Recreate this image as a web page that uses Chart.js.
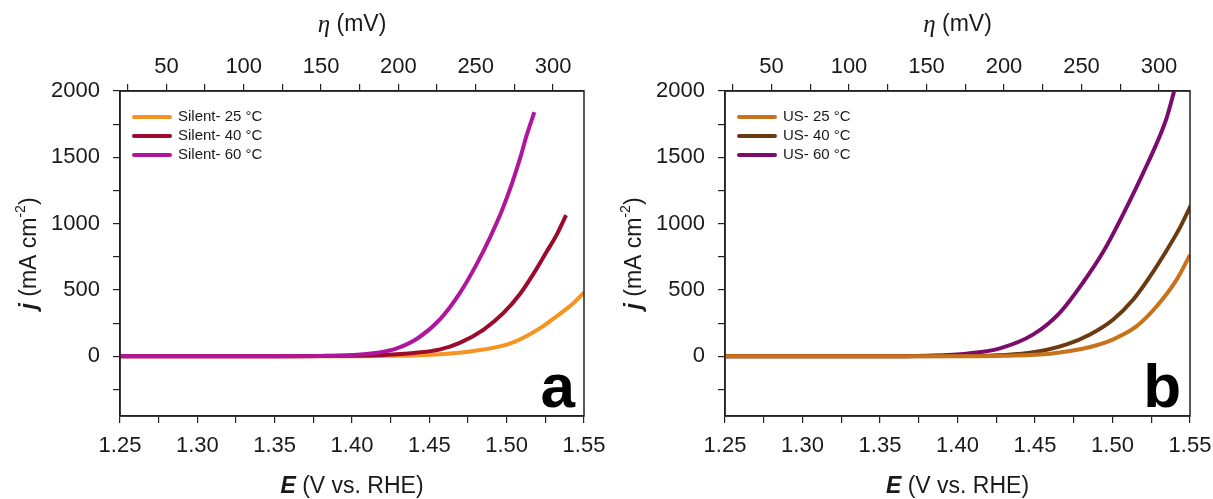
<!DOCTYPE html>
<html>
<head>
<meta charset="utf-8">
<script src="https://cdn.jsdelivr.net/npm/chart.js@4.4.1/dist/chart.umd.min.js"></script>
<style>
  body { margin: 0; background: #fff; }
  .wrap { position: absolute; top: 0; height: 499px; }
  #wa { left: 0; width: 605px; }
  #wb { left: 605px; width: 608px; }
</style>
</head>
<body>
<div class="wrap" id="wa"><canvas id="chartA"></canvas></div>
<div class="wrap" id="wb"><canvas id="chartB"></canvas></div>
<script>
// tick values and labels
const eMajor = [1.25, 1.30, 1.35, 1.40, 1.45, 1.50, 1.55];
const eTickLabels = ['1.25', '1.30', '1.35', '1.40', '1.45', '1.50', '1.55'];
const eMinor = [1.275, 1.325, 1.375, 1.425, 1.475, 1.525];
const etaMajor = [50, 100, 150, 200, 250, 300];
const etaTickLabels = ['50', '100', '150', '200', '250', '300'];
const etaMinor = [25, 75, 125, 175, 225, 275];
const jMajor = [0, 500, 1000, 1500, 2000];
const jTickLabels = ['0', '500', '1000', '1500', '2000'];
const jMinor = [-250, 250, 750, 1250, 1750];

// panel a (silent)
const labelsA = ['Silent- 25 °C', 'Silent- 40 °C', 'Silent- 60 °C'];
const eSilent25 = [1.25, 1.30, 1.35, 1.40, 1.42, 1.44, 1.457, 1.4785, 1.50, 1.5108, 1.5216, 1.5323, 1.5431, 1.55];
const jSilent25 = [0, 0, 0, 1, 3, 7, 15, 40, 88, 140, 212, 302, 400, 482];
const eSilent40 = [1.25, 1.30, 1.35, 1.40, 1.42, 1.44, 1.457, 1.47, 1.4849, 1.4978, 1.5086, 1.5172, 1.5259, 1.5323, 1.5384];
const jSilent40 = [0, 0, 0, 4, 10, 25, 52, 103, 200, 325, 470, 620, 790, 915, 1064];
const eSilent60 = [1.25, 1.30, 1.35, 1.38, 1.40, 1.415, 1.429, 1.443, 1.457, 1.4698, 1.4806, 1.4892, 1.4968, 1.5032, 1.5086, 1.5129, 1.5179];
const jSilent60 = [0, 0, 0, 3, 10, 25, 60, 140, 280, 478, 695, 895, 1095, 1295, 1490, 1665, 1840];

// panel b (ultrasound)
const labelsB = ['US- 25 °C', 'US- 40 °C', 'US- 60 °C'];
const eUS25 = [1.25, 1.30, 1.35, 1.40, 1.43, 1.46, 1.4855, 1.5005, 1.5156, 1.5285, 1.5414, 1.55];
const jUS25 = [0, 0, 0, 1, 5, 20, 70, 128, 227, 377, 578, 765];
const eUS40 = [1.25, 1.30, 1.35, 1.40, 1.43, 1.4489, 1.4704, 1.4855, 1.5005, 1.5134, 1.5242, 1.535, 1.5435, 1.5506];
const jUS40 = [0, 0, 0, 2, 10, 30, 90, 165, 278, 428, 602, 800, 970, 1140];
const eUS60 = [1.25, 1.30, 1.35, 1.38, 1.4059, 1.4274, 1.4489, 1.4661, 1.4812, 1.4941, 1.5027, 1.5113, 1.5199, 1.5285, 1.535, 1.5397];
const jUS60 = [0, 0, 0, 5, 20, 60, 165, 330, 560, 790, 975, 1175, 1385, 1605, 1800, 1995];

const colorsA = ['#f7931e', '#9c0a2e', '#b0169c'];
const colorsB = ['#c8731a', '#6b3a10', '#7b0c6c'];

const FONT = '"Liberation Sans", Arial, sans-serif';
const INK = '#1a1a1a';

function pickLabel(v, major, labels) {
  const i = major.findIndex(m => Math.abs(m - v) < 1e-6);
  return i >= 0 ? labels[i] : '';
}

function toPoints(e, j) {
  return e.map((x, i) => ({ x: x, y: j[i] }));
}

// frame, axis titles, legend and panel letter
const decorPlugin = {
  id: 'decor',
  afterDraw(chart, args, opts) {
    const c = chart.ctx, a = chart.chartArea;
    c.save();
    c.strokeStyle = '#222';
    c.lineWidth = 1.5;
    c.strokeRect(a.left, a.top, a.right - a.left, a.bottom - a.top);

    const cx = (a.left + a.right) / 2;
    c.fillStyle = INK;
    c.textBaseline = 'middle';

    // top title: eta (mV)
    c.font = 'italic 25px "Liberation Serif", serif';
    const w1 = c.measureText('η').width;
    c.font = '23px ' + FONT;
    const w2 = c.measureText(' (mV)').width;
    let x = cx - (w1 + w2) / 2;
    c.textAlign = 'left';
    c.font = 'italic 25px "Liberation Serif", serif';
    c.fillText('η', x, a.top - 66);
    c.font = '23px ' + FONT;
    c.fillText(' (mV)', x + w1, a.top - 66);

    // bottom title: E (V vs. RHE)
    c.font = 'bold italic 23px ' + FONT;
    const b1 = c.measureText('E').width;
    c.font = '23px ' + FONT;
    const b2 = c.measureText(' (V vs. RHE)').width;
    x = cx - (b1 + b2) / 2;
    c.font = 'bold italic 23px ' + FONT;
    c.fillText('E', x, a.bottom + 71);
    c.font = '23px ' + FONT;
    c.fillText(' (V vs. RHE)', x + b1, a.bottom + 71);

    // y title: j (mA cm-2)
    c.save();
    c.translate(a.left - 90, (a.top + a.bottom) / 2);
    c.rotate(-Math.PI / 2);
    const parts = [
      ['j', 'bold italic 23px ' + FONT, 0],
      [' (mA cm', '23px ' + FONT, 0],
      ['-2', '14px ' + FONT, -9],
      [')', '23px ' + FONT, 0]
    ];
    let tw = 0;
    parts.forEach(p => { c.font = p[1]; tw += c.measureText(p[0]).width; });
    x = -tw / 2;
    parts.forEach(p => {
      c.font = p[1];
      c.fillText(p[0], x, p[2]);
      x += c.measureText(p[0]).width;
    });
    c.restore();

    // legend
    c.font = '15px ' + FONT;
    c.lineWidth = 4;
    c.lineCap = 'round';
    chart.data.datasets.forEach((ds, i) => {
      const ly = a.top + 26 + i * 19;
      c.strokeStyle = ds.borderColor;
      c.beginPath();
      c.moveTo(a.left + 14, ly);
      c.lineTo(a.left + 50, ly);
      c.stroke();
      c.fillStyle = INK;
      c.fillText(ds.label, a.left + 58, ly);
    });

    // panel letter
    c.font = 'bold 62px ' + FONT;
    c.textAlign = 'right';
    c.textBaseline = 'alphabetic';
    c.fillStyle = '#000';
    c.fillText(opts.letter, a.right - 9, a.bottom - 9);
    c.restore();
  }
};

function makeChart(id, labels, es, js, colors, orders, letter, padRight) {
  const datasets = labels.map((lab, i) => ({
    label: lab,
    data: toPoints(es[i], js[i]),
    borderColor: colors[i],
    borderWidth: 4,
    pointRadius: 0,
    cubicInterpolationMode: 'monotone',
    order: orders[i],
    xAxisID: 'x',
    yAxisID: 'y'
  }));
  const tickFont = { family: FONT, size: 22 };
  const grid = { drawOnChartArea: false, drawTicks: true, tickLength: 7, color: '#222', lineWidth: 1.2 };
  new Chart(document.getElementById(id), {
    type: 'line',
    data: { datasets: datasets },
    options: {
      responsive: true,
      maintainAspectRatio: false,
      animation: false,
      layout: { padding: { left: 0, top: 0, bottom: 0, right: padRight } },
      plugins: {
        legend: { display: false },
        tooltip: { enabled: false },
        decor: { letter: letter }
      },
      scales: {
        x: {
          type: 'linear', position: 'bottom', min: 1.25, max: 1.55,
          afterBuildTicks: s => { s.ticks = eMajor.concat(eMinor).map(v => ({ value: v })); },
          afterFit: s => { s.height = 83; },
          ticks: { callback: v => pickLabel(v, eMajor, eTickLabels), font: tickFont, color: INK, padding: 10, maxRotation: 0, autoSkip: false },
          grid: grid,
          border: { color: '#222', width: 1.5 }
        },
        x2: {
          type: 'linear', position: 'top', min: 20, max: 320,
          afterBuildTicks: s => { s.ticks = etaMajor.concat(etaMinor).map(v => ({ value: v })); },
          afterFit: s => { s.height = 91; },
          ticks: { callback: v => pickLabel(v, etaMajor, etaTickLabels), font: tickFont, color: INK, padding: 4, maxRotation: 0, autoSkip: false },
          grid: grid,
          border: { color: '#222', width: 1.5 }
        },
        y: {
          type: 'linear', position: 'left', min: -450, max: 2000,
          afterBuildTicks: s => { s.ticks = jMajor.concat(jMinor).map(v => ({ value: v })); },
          afterFit: s => { s.width = 120; },
          ticks: { callback: v => pickLabel(v, jMajor, jTickLabels), font: tickFont, color: INK, padding: 13, autoSkip: false },
          grid: grid,
          border: { color: '#222', width: 1.5 }
        }
      }
    },
    plugins: [decorPlugin]
  });
}

makeChart('chartA', labelsA,
  [eSilent25, eSilent40, eSilent60], [jSilent25, jSilent40, jSilent60],
  colorsA, [2, 1, 0], 'a', 21);
makeChart('chartB', labelsB,
  [eUS25, eUS40, eUS60], [jUS25, jUS40, jUS60],
  colorsB, [0, 1, 2], 'b', 23);
</script>
</body>
</html>
